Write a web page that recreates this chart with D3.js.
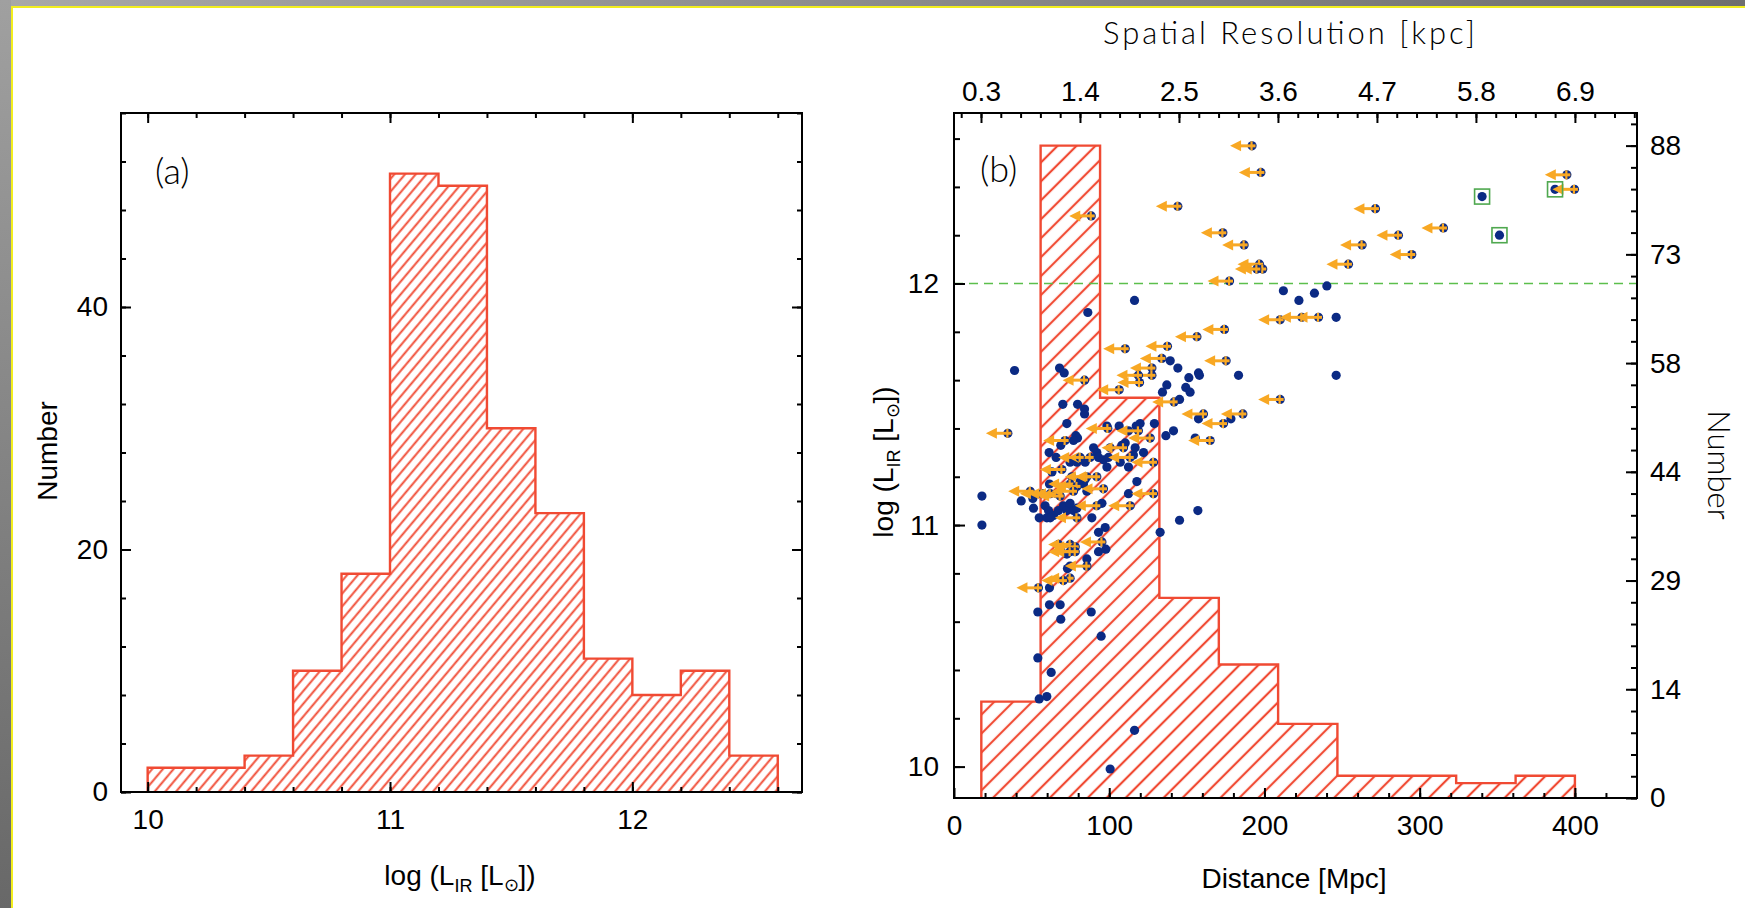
<!DOCTYPE html>
<html>
<head>
<meta charset="utf-8">
<script src="https://cdn.jsdelivr.net/npm/d3@7"></script>
<style>
html, body { margin: 0; padding: 0; background: #fff; overflow: hidden; }
svg { display: block; }
</style>
</head>
<body>
<svg id="chart" width="1745" height="908"></svg>
<script>
// ---- panel (a): histogram of log L_IR ----
const lirBinStart = [10.0, 10.2, 10.4, 10.6, 10.8, 11.0, 11.2, 11.4, 11.6, 11.8, 12.0, 12.2, 12.4];
const lirBinWidth = 0.2;
const lirCounts   = [2, 2, 3, 10, 18, 51, 50, 30, 23, 11, 8, 10, 3];
const lirTicksA   = [10, 11, 12];
const numTicksA   = [0, 20, 40];

// ---- panel (b): histogram of distance + L_IR vs distance ----
const distEdges  = [17.6, 55.8, 94.1, 132.3, 170.6, 208.8, 247.0, 285.3, 323.5, 361.8, 400.0];
const distCounts = [13, 88, 54, 27, 18, 10, 3, 3, 2, 3];
const distTicks  = [0, 100, 200, 300, 400];
const lirTicksB  = [10, 11, 12];
const kpcTicks   = [0.3, 1.4, 2.5, 3.6, 4.7, 5.8, 6.9];
const kpcPerMpc  = 0.01725;
const numTicksB  = [0, 14.667, 29.333, 44, 58.667, 73.333, 88];
const numLabelsB = ["0", "14", "29", "44", "58", "73", "88"];
const ulirgLimit = 12;

// detections [distance Mpc, log L_IR]
const detections = [
  [340.2,12.36],[351.4,12.20],[387.2,12.39],
  [240.2,11.99],[232.2,11.96],[222.2,11.93],[212.2,11.97],[246.2,11.86],[246.2,11.62],
  [116.3,11.93],[86.2,11.88],
  [139.3,11.68],[144.2,11.65],[157.5,11.63],[158.1,11.62],[151.3,11.61],[183.3,11.62],
  [137.1,11.58],[149.3,11.57],[152.1,11.55],[134.3,11.55],[145.3,11.52],
  [157.5,11.44],[178.4,11.44],[141.4,11.39],[136.5,11.37],[155.4,11.36],[129.1,11.42],
  [39.0,11.64],[68.0,11.65],[71.0,11.63],[70.1,11.50],[79.6,11.50],[84.1,11.48],[84.1,11.46],
  [72.7,11.42],[78.5,11.37],[79.6,11.36],[98.5,11.41],[106.4,11.41],[112.4,11.39],[119.9,11.42],[117.4,11.41],
  [77.0,11.35],[68.8,11.33],[61.3,11.30],[65.8,11.28],[89.9,11.32],[92.0,11.30],[100.6,11.32],[108.1,11.33],
  [110.3,11.34],[116.7,11.32],[122.1,11.30],[115.6,11.29],[74.8,11.26],[79.2,11.26],[84.5,11.26],[93.1,11.28],
  [96.3,11.27],[99.5,11.28],[107.1,11.26],[112.4,11.24],[63.1,11.22],[61.5,11.17],[75.9,11.20],[81.3,11.18],
  [84.5,11.19],[98.5,11.24],[117.8,11.18],
  [18.0,11.12],[18.0,11.00],[43.3,11.10],[50.8,11.11],[51.2,11.07],[54.9,11.03],[58.7,11.08],[60.9,11.06],
  [59.8,11.03],[64.1,11.04],[67.3,11.06],[70.5,11.08],[72.7,11.06],[74.8,11.09],[77.0,11.06],[79.2,11.07],
  [62.0,11.03],[83.4,11.17],[85.6,11.14],[88.8,11.03],[95.3,11.09],[112.4,11.13],[132.8,10.97],
  [97.4,10.99],[93.1,10.97],[93.1,10.89],[97.8,10.90],[67.3,10.92],[68.4,10.90],[72.7,10.88],[85.6,10.86],
  [74.8,10.83],[73.1,10.82],[61.5,10.74],[61.5,10.67],[68.4,10.67],[54.0,10.64],[88.4,10.64],[68.8,10.61],
  [94.8,10.54],[54.0,10.45],[62.6,10.39],[54.9,10.28],[59.8,10.29],[116.3,10.15],[100.6,9.99],
  [145.3,11.02],[157.1,11.06]
];

// sources with a distance upper limit (arrow to the left)
const upperLimits = [
  [192.0,12.57],[197.7,12.46],[144.2,12.32],[88.4,12.28],[173.2,12.21],[186.9,12.16],
  [196.8,12.08],[198.9,12.06],[195.1,12.06],[177.5,12.01],
  [271.5,12.31],[286.3,12.20],[315.3,12.23],[262.9,12.16],[294.9,12.12],[254.1,12.08],
  [394.8,12.45],[399.7,12.39],
  [210.1,11.85],[224.1,11.86],[234.8,11.86],[174.2,11.81],[156.5,11.78],[137.5,11.74],[110.3,11.73],
  [133.9,11.69],[175.3,11.68],[127.5,11.65],[127.5,11.62],[118.8,11.62],[119.5,11.59],[106.4,11.56],
  [141.8,11.51],[210.1,11.52],[160.7,11.46],[186.1,11.46],[173.6,11.42],[165.0,11.35],
  [84.1,11.60],[34.7,11.38],[99.1,11.40],[118.8,11.39],[126.4,11.36],[71.6,11.35],[109.2,11.32],
  [87.7,11.28],[81.3,11.28],[113.5,11.28],[128.5,11.26],[69.5,11.23],[85.6,11.20],[92.0,11.20],
  [74.8,11.17],[79.2,11.16],[49.1,11.14],[56.6,11.13],[62.0,11.13],[66.3,11.13],[68.4,11.12],[77.0,11.14],
  [79.2,11.03],[92.0,11.08],[96.3,11.15],[113.5,11.08],[128.5,11.13],[95.3,10.93],
  [74.8,10.92],[78.1,10.91],[74.8,10.89],[78.1,10.89],[85.6,10.83],[74.8,10.78],[70.5,10.77],[54.4,10.74]
];

// the three boxed sources
const boxed = [[340.2,12.36],[351.4,12.20],[387.2,12.39]];

const FONT = '"Liberation Sans", Arial, Helvetica, sans-serif';
const THIN = 'Lato, "Open Sans", "DejaVu Sans", sans-serif';
const RED = "#f04a33", BLUE = "#0b2a84", ORANGE = "#f8a824", GREEN = "#5cbf4c";

const svg = d3.select("#chart");
const defs = svg.append("defs");

// page border (gray gradient + yellow line)
const gTop = defs.append("linearGradient").attr("id", "gTop").attr("x1", 0).attr("x2", 1).attr("y1", 0).attr("y2", 0);
gTop.append("stop").attr("offset", 0).attr("stop-color", "#a8a8a8");
gTop.append("stop").attr("offset", 1).attr("stop-color", "#6f6f6f");
const gLeft = defs.append("linearGradient").attr("id", "gLeft").attr("x1", 0).attr("x2", 0).attr("y1", 0).attr("y2", 1);
gLeft.append("stop").attr("offset", 0).attr("stop-color", "#a0a0a0");
gLeft.append("stop").attr("offset", 1).attr("stop-color", "#686868");

svg.append("rect").attr("x", 0).attr("y", 0).attr("width", 1745).attr("height", 6).attr("fill", "url(#gTop)");
svg.append("rect").attr("x", 0).attr("y", 0).attr("width", 11).attr("height", 908).attr("fill", "url(#gLeft)");
svg.append("rect").attr("x", 11).attr("y", 6).attr("width", 1734).attr("height", 2).attr("fill", "#f2ee1e");
svg.append("rect").attr("x", 11).attr("y", 6).attr("width", 2).attr("height", 902).attr("fill", "#f2ee1e");

// hatch patterns
function hatch(id, spacing, angle, width) {
  defs.append("pattern").attr("id", id)
      .attr("patternUnits", "userSpaceOnUse")
      .attr("width", spacing).attr("height", spacing)
      .attr("patternTransform", `rotate(${angle})`)
    .append("line")
      .attr("x1", spacing / 2).attr("y1", 0).attr("x2", spacing / 2).attr("y2", spacing)
      .attr("stroke", RED).attr("stroke-width", width);
}
hatch("hatchA", 8.2, 40, 1.9);
hatch("hatchB", 13.4, 45, 2.2);

// ---------- scales ----------
const A = { left: 121, right: 802, top: 113, bottom: 792 };
const B = { left: 954, right: 1637, top: 113, bottom: 798 };

const xA = d3.scaleLinear().domain([9.89, 12.70]).range([A.left, A.right]);
const yA = d3.scaleLinear().domain([0, 56]).range([A.bottom, A.top]);

const xB = d3.scaleLinear().domain([0, 440]).range([B.left, B.right]);
const yB = d3.scaleLinear().domain([9.87, 12.706]).range([B.bottom, B.top]);
const nB = d3.scaleLinear().domain([0, 92.4]).range([B.bottom, B.top]);
const kB = d3.scaleLinear().domain([0, 440 * kpcPerMpc]).range([B.left, B.right]);

// ---------- histogram helper ----------
function stepPoints(starts, ends, counts) {
  const pts = [[starts[0], 0]];
  counts.forEach((c, i) => { pts.push([starts[i], c]); pts.push([ends[i], c]); });
  pts.push([ends[ends.length - 1], 0]);
  return pts;
}

function drawHist(g, pts, xs, ys, pattern) {
  const line = d3.line().x(d => xs(d[0])).y(d => ys(d[1]));
  g.append("path").attr("d", line(pts) + "Z").attr("fill", `url(#${pattern})`).attr("stroke", "none");
  g.append("path").attr("d", line(pts)).attr("fill", "none").attr("stroke", RED).attr("stroke-width", 2.4);
}

// ---------- axes helper ----------
function axis(g, fn, scale, values, size, fmt, pad) {
  g.call(fn(scale).tickValues(values).tickSizeInner(-size).tickSizeOuter(0).tickFormat(fmt).tickPadding(pad));
  g.select(".domain").remove();
  g.selectAll(".tick line").attr("stroke", "#000").attr("stroke-width", 2);
  g.attr("font-family", FONT).attr("font-size", 28);
  g.selectAll(".tick text").attr("fill", "#000");
}
const none = () => "";

// ================= panel (a) =================
const pa = svg.append("g");
drawHist(pa, stepPoints(lirBinStart, lirBinStart.map(s => s + lirBinWidth), lirCounts), xA, yA, "hatchA");

const minorXA = d3.range(10.0, 12.61, 0.2);
const minorYA = d3.range(0, 56.1, 4);
axis(pa.append("g").attr("transform", `translate(0,${A.bottom})`), d3.axisBottom, xA, minorXA, 5, none, 0);
axis(pa.append("g").attr("transform", `translate(0,${A.bottom})`), d3.axisBottom, xA, lirTicksA, 10, d3.format("d"), 17);
axis(pa.append("g").attr("transform", `translate(0,${A.top})`), d3.axisTop, xA, minorXA, 5, none, 0);
axis(pa.append("g").attr("transform", `translate(0,${A.top})`), d3.axisTop, xA, lirTicksA, 10, none, 0);
axis(pa.append("g").attr("transform", `translate(${A.left},0)`), d3.axisLeft, yA, minorYA, 5, none, 0);
axis(pa.append("g").attr("transform", `translate(${A.left},0)`), d3.axisLeft, yA, numTicksA, 10, d3.format("d"), 13);
axis(pa.append("g").attr("transform", `translate(${A.right},0)`), d3.axisRight, yA, minorYA, 5, none, 0);
axis(pa.append("g").attr("transform", `translate(${A.right},0)`), d3.axisRight, yA, numTicksA, 10, none, 0);

pa.append("rect").attr("x", A.left).attr("y", A.top)
  .attr("width", A.right - A.left).attr("height", A.bottom - A.top)
  .attr("fill", "none").attr("stroke", "#000").attr("stroke-width", 2);

pa.append("text").attr("x", 155).attr("y", 184)
  .attr("font-family", THIN).attr("font-weight", 300).attr("font-size", 36).text("(a)");

function lirTitle(t) {
  t.append("tspan").text("log (L");
  t.append("tspan").attr("font-size", 18).attr("dy", 7).text("IR");
  t.append("tspan").attr("dy", -7).text(" [L");
  t.append("tspan").attr("font-size", 18).attr("dy", 6).text("⊙");
  t.append("tspan").attr("dy", -6).text("])");
}

pa.append("text").attr("x", 460).attr("y", 885).attr("text-anchor", "middle")
  .attr("font-family", FONT).attr("font-size", 28).call(lirTitle);

pa.append("text").attr("transform", "translate(57,451) rotate(-90)").attr("text-anchor", "middle")
  .attr("font-family", FONT).attr("font-size", 28).text("Number");

// ================= panel (b) =================
const pb = svg.append("g");
drawHist(pb, stepPoints(distEdges.slice(0, -1), distEdges.slice(1), distCounts), xB, nB, "hatchB");

// ULIRG line
pb.append("line")
  .attr("x1", B.left).attr("x2", B.right)
  .attr("y1", yB(ulirgLimit)).attr("y2", yB(ulirgLimit))
  .attr("stroke", GREEN).attr("stroke-width", 1.6).attr("stroke-dasharray", "9,6");

// detections
pb.append("g").selectAll("circle").data(detections).join("circle")
  .attr("cx", d => xB(d[0])).attr("cy", d => yB(d[1])).attr("r", 4.6)
  .attr("fill", BLUE);

// upper limits
const ul = pb.append("g").selectAll("g").data(upperLimits).join("g")
  .attr("transform", d => `translate(${xB(d[0])},${yB(d[1])})`);
ul.append("circle").attr("r", 4.6).attr("fill", BLUE);
ul.append("path").attr("d", "M3.5,0 H-12").attr("stroke", ORANGE).attr("stroke-width", 3);
ul.append("path").attr("d", "M-22,0 L-11,-5.5 L-11,5.5 Z").attr("fill", ORANGE);
ul.append("path").attr("d", "M-0.5,-4.5 V4.5").attr("stroke", ORANGE).attr("stroke-width", 2.2);

// boxes
pb.append("g").selectAll("rect").data(boxed).join("rect")
  .attr("x", d => xB(d[0]) - 7.5).attr("y", d => yB(d[1]) - 7.5)
  .attr("width", 15).attr("height", 15)
  .attr("fill", "none").attr("stroke", "#4fa84f").attr("stroke-width", 1.6);

// axes
const minorXB = d3.range(20, 440, 20);
const minorYB = d3.range(10.0, 12.7, 0.2);
const minorNB = d3.range(0, 92.4, 88 / 30);
const minorKB = d3.range(0.08, 7.59, 0.22);
axis(pb.append("g").attr("transform", `translate(0,${B.bottom})`), d3.axisBottom, xB, minorXB, 5, none, 0);
axis(pb.append("g").attr("transform", `translate(0,${B.bottom})`), d3.axisBottom, xB, distTicks, 10, d3.format("d"), 17);
axis(pb.append("g").attr("transform", `translate(0,${B.top})`), d3.axisTop, kB, minorKB, 5, none, 0);
axis(pb.append("g").attr("transform", `translate(0,${B.top})`), d3.axisTop, kB, kpcTicks, 10, d3.format(".1f"), 12);
axis(pb.append("g").attr("transform", `translate(${B.left},0)`), d3.axisLeft, yB, minorYB, 6, none, 0);
axis(pb.append("g").attr("transform", `translate(${B.left},0)`), d3.axisLeft, yB, lirTicksB, 11, d3.format("d"), 15);
axis(pb.append("g").attr("transform", `translate(${B.right},0)`), d3.axisRight, nB, minorNB, 6, none, 0);
axis(pb.append("g").attr("transform", `translate(${B.right},0)`), d3.axisRight, nB, numTicksB, 11, (d, i) => numLabelsB[i], 13);

pb.append("rect").attr("x", B.left).attr("y", B.top)
  .attr("width", B.right - B.left).attr("height", B.bottom - B.top)
  .attr("fill", "none").attr("stroke", "#000").attr("stroke-width", 2);

pb.append("text").attr("x", 980).attr("y", 182)
  .attr("font-family", THIN).attr("font-weight", 300).attr("font-size", 36).text("(b)");

pb.append("text").attr("x", 1294).attr("y", 888).attr("text-anchor", "middle")
  .attr("font-family", FONT).attr("font-size", 28).text("Distance [Mpc]");

pb.append("text").attr("transform", "translate(893,462) rotate(-90)").attr("text-anchor", "middle")
  .attr("font-family", FONT).attr("font-size", 28).call(lirTitle);

pb.append("text").attr("x", 1289).attr("y", 44).attr("text-anchor", "middle")
  .attr("font-family", THIN).attr("font-weight", 300).attr("font-size", 31)
  .attr("textLength", 372).attr("lengthAdjust", "spacing")
  .text("Spatial Resolution [kpc]");

pb.append("text").attr("transform", "translate(1708,465) rotate(90)").attr("text-anchor", "middle")
  .attr("font-family", THIN).attr("font-weight", 300).attr("font-size", 31).text("Number");
</script>
</body>
</html>
